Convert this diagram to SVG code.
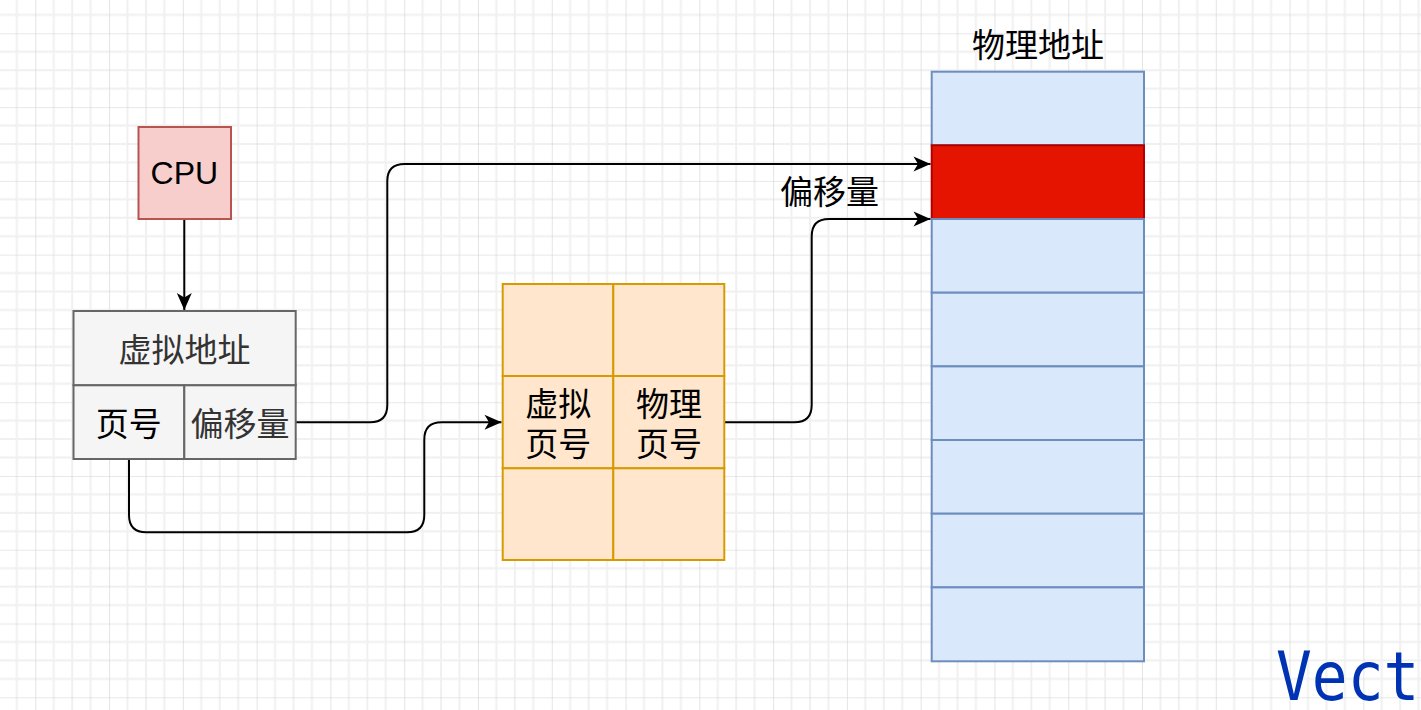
<svg xmlns="http://www.w3.org/2000/svg" width="1421" height="710" viewBox="0 0 1421 710">
<style>
.cjk{font-family:"Noto Sans CJK SC","Noto Sans",sans-serif;font-size:33px;fill:#000;text-anchor:middle;dominant-baseline:central}
.edge{fill:none;stroke:#000;stroke-width:2}
.mem{fill:#dae8fc;stroke:#6c8ebf;stroke-width:2}
.pt{fill:#ffe6cc;stroke:#d79b00;stroke-width:2}
.va{fill:#f5f5f5;stroke:#666;stroke-width:2}
</style>
<defs>
<pattern id="grid" patternUnits="userSpaceOnUse" x="35.3" y="33.3" width="73.78" height="73.78">
<g stroke="#f0f0f0" stroke-width="2">
<line x1="18.44" y1="0" x2="18.44" y2="73.78"/><line x1="36.89" y1="0" x2="36.89" y2="73.78"/><line x1="55.33" y1="0" x2="55.33" y2="73.78"/>
<line x1="0" y1="18.44" x2="73.78" y2="18.44"/><line x1="0" y1="36.89" x2="73.78" y2="36.89"/><line x1="0" y1="55.33" x2="73.78" y2="55.33"/>
</g>
<g stroke="#d2d2d2" stroke-width="1.2">
<line x1="0" y1="0" x2="0" y2="73.78"/><line x1="0" y1="0" x2="73.78" y2="0"/>
</g>
</pattern>
<marker id="arr" markerUnits="userSpaceOnUse" markerWidth="18" markerHeight="16" refX="17" refY="7.5" orient="auto" overflow="visible">
<path d="M0,0 L17,7.5 L0,15 L4.5,7.5 Z" fill="#000"/>
</marker>
</defs>
<rect width="1421" height="710" fill="#fff"/>
<rect width="1421" height="710" fill="url(#grid)"/>

<g id="connectors">
<path class="edge" d="M184.3,219.5 L184.3,310" marker-end="url(#arr)"/>
<path class="edge" d="M296,422.3 L370,422.3 Q387.3,422.3 387.3,405 L387.3,181 Q387.3,164 404.6,164 L930.5,164" marker-end="url(#arr)"/>
<path class="edge" d="M129,459 L129,515 Q129,532.3 146.3,532.3 L407,532.3 Q424.3,532.3 424.3,515 L424.3,439.6 Q424.3,422.3 441.6,422.3 L501.5,422.3" marker-end="url(#arr)"/>
<path class="edge" d="M724.5,422.3 L794.4,422.3 Q811.7,422.3 811.7,405 L811.7,236.3 Q811.7,219 829,219 L930.5,219" marker-end="url(#arr)"/>
</g>

<g id="cpu">
<rect x="138.5" y="127" width="92.5" height="92" fill="#f8cecc" stroke="#b85450" stroke-width="2"/>
<text x="184.3" y="173" font-family="'Liberation Sans',Arial,sans-serif" font-size="32" text-anchor="middle" dominant-baseline="central">CPU</text>
</g>

<g id="virtual-address">
<rect class="va" x="73.5" y="311" width="222.2" height="74.3"/>
<rect class="va" x="73.5" y="385.3" width="110.8" height="73.7"/>
<rect class="va" x="184.3" y="385.3" width="111.4" height="73.7"/>
<text class="cjk" x="184.6" y="348" style="fill:#333">虚拟地址</text>
<text class="cjk" x="128.8" y="421.5">页号</text>
<text class="cjk" x="240" y="421.5" style="fill:#333">偏移量</text>
</g>

<g id="page-table">
<rect class="pt" x="502.7" y="284" width="110.6" height="92"/>
<rect class="pt" x="613.3" y="284" width="111" height="92"/>
<rect class="pt" x="502.7" y="376" width="110.6" height="92.3"/>
<rect class="pt" x="613.3" y="376" width="111" height="92.3"/>
<rect class="pt" x="502.7" y="468.3" width="110.6" height="91.7"/>
<rect class="pt" x="613.3" y="468.3" width="111" height="91.7"/>
<text class="cjk" x="558.3" y="401.5">虚拟</text>
<text class="cjk" x="558.3" y="441.5">页号</text>
<text class="cjk" x="669" y="401.5">物理</text>
<text class="cjk" x="669" y="441.5">页号</text>
</g>

<g id="physical-memory">
<rect class="mem" x="931.7" y="71.7" width="212.3" height="73.6"/>
<rect x="931.7" y="145.3" width="212.3" height="73.7" fill="#e51400" stroke="#b20000" stroke-width="2"/>
<rect class="mem" x="931.7" y="219" width="212.3" height="73.7"/>
<rect class="mem" x="931.7" y="292.7" width="212.3" height="73.7"/>
<rect class="mem" x="931.7" y="366.4" width="212.3" height="73.6"/>
<rect class="mem" x="931.7" y="440" width="212.3" height="73.7"/>
<rect class="mem" x="931.7" y="513.7" width="212.3" height="73.7"/>
<rect class="mem" x="931.7" y="587.4" width="212.3" height="73.9"/>
</g>

<g id="labels">
<text class="cjk" x="1038" y="43">物理地址</text>
<text class="cjk" x="829.5" y="189.5">偏移量</text>
<text x="0" y="0" transform="translate(1276,700) scale(0.875,1)" font-family="'DejaVu Sans Mono',monospace" font-size="68" fill="#0033b3">Vect</text>
</g>
</svg>
